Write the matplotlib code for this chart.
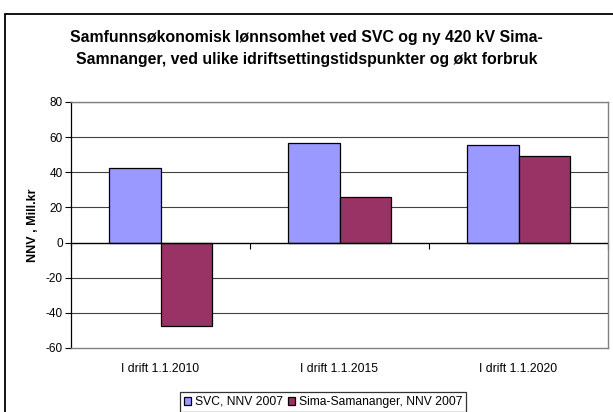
import matplotlib
matplotlib.use("Agg")
import matplotlib.pyplot as plt
from matplotlib.patches import Rectangle
import numpy as np

categories = ["I drift 1.1.2010", "I drift 1.1.2015", "I drift 1.1.2020"]
svc = [42.5, 56.8, 55.3]
sima = [-47.5, 25.9, 49.5]
series_names = ["SVC, NNV 2007", "Sima-Samananger, NNV 2007"]
yticks = [-60, -40, -20, 0, 20, 40, 60, 80]

plt.rcParams['font.family'] = ['Liberation Sans', 'DejaVu Sans']

fig = plt.figure(figsize=(6.13, 4.12), dpi=100)
ax = fig.add_axes([71/613, 1-348/412, (608-71)/613, (348-102)/412])

x = np.arange(len(categories))
w = 0.286
ax.bar(x - w/2, svc, w, color='#9999FF', edgecolor='black', linewidth=0.9, zorder=3, label=series_names[0])
ax.bar(x + w/2, sima, w, color='#993366', edgecolor='black', linewidth=0.9, zorder=3, label=series_names[1])

ax.set_xlim(-0.5, len(categories) - 0.5)
ax.set_ylim(-60, 80)
ax.set_yticks(yticks)
ax.set_yticklabels([str(t) for t in yticks], fontsize=8.5)
ax.tick_params(axis='y', length=4, width=0.8, pad=2, direction='out')
for t in yticks:
    if t not in (-60, 0):
        ax.axhline(t, color='#404040', linewidth=0.8, zorder=1)
ax.axhline(0, color='black', linewidth=1.0, zorder=4)

ax.set_xticks(x)
ax.set_xticklabels(categories, fontsize=8.7)
ax.tick_params(axis='x', length=0, pad=11)

sec = ax.secondary_xaxis(0, transform=ax.transData)
sec.set_xticks(np.arange(len(categories) + 1) - 0.5)
sec.set_xticklabels([])
sec.tick_params(axis='x', length=4, width=0.8, direction='out', color='black')
sec.spines['bottom'].set_visible(False)

for s in ['top', 'right', 'bottom']:
    ax.spines[s].set_color('#808080')
    ax.spines[s].set_linewidth(1.0)
ax.spines['left'].set_color('black')
ax.spines['left'].set_linewidth(0.9)

ax.set_ylabel("NNV , Mill.kr", fontsize=9, fontweight='bold', labelpad=5)

fig.text(0.5, 1-48.5/412, "Samfunnsøkonomisk lønnsomhet ved SVC og ny 420 kV Sima-\nSamnanger, ved ulike idriftsettingstidspunkter og økt forbruk",
         ha='center', va='center', fontsize=11.4, fontweight='bold', linespacing=1.65)

leg = fig.legend(loc='center', bbox_to_anchor=(323/613, 1-402/412), ncol=2, fontsize=8.7,
                 frameon=True, fancybox=False, edgecolor='black', handlelength=0.6, handleheight=0.6,
                 handletextpad=0.3, columnspacing=0.4, borderpad=0.3, borderaxespad=0)
leg.get_frame().set_linewidth(0.9)

fig.patches.append(Rectangle((5/613, -0.1), 1.2, 1-14/412+0.1, transform=fig.transFigure,
                             fill=False, edgecolor='black', linewidth=1.3))

fig.savefig("out.png", dpi=100)
